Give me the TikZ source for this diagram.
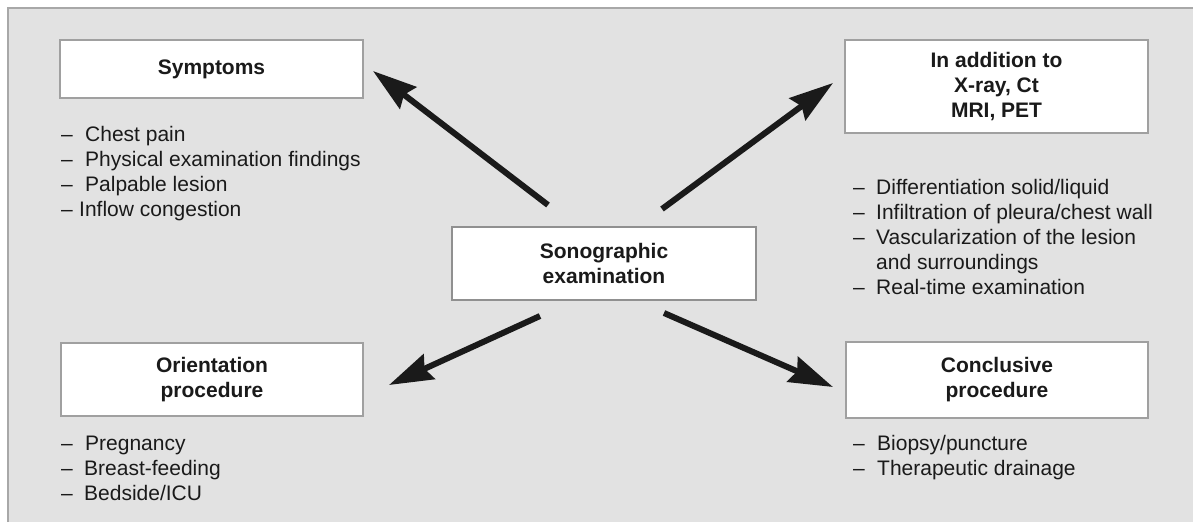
\documentclass[tikz,border=0pt]{standalone}
\usepackage{fontspec}
\setmainfont{Liberation Sans}
\usetikzlibrary{arrows.meta}
\definecolor{panel}{HTML}{E2E2E2}
\definecolor{frameline}{HTML}{A8A8A8}
\definecolor{boxline}{HTML}{A0A0A0}
\definecolor{ink}{HTML}{1A1A1A}
\newcommand\itm[2][24pt]{\makebox[#1][l]{–}#2}
\begin{document}
\begin{tikzpicture}[x=1pt,y=-1pt,
  box/.style={draw=boxline, line width=1.2pt, fill=white, minimum width=303pt,
    inner sep=0pt, align=center, text=ink,
    font=\bfseries\fontsize{21}{25}\selectfont},
  lst/.style={anchor=north west, inner sep=0pt, align=left, text=ink,
    font=\fontsize{21}{25}\selectfont},
  arr/.style={line width=6pt, draw=ink,
    -{Stealth[length=44pt,width=27pt,inset=5pt]}}]
\useasboundingbox (0,0) rectangle (1193,522);
% panel
\fill[panel] (7,7) rectangle (1193,522);
\draw[frameline, line width=2pt] (8,522) -- (8,8) -- (1193,8);
% boxes
\node[box, minimum height=58pt] (symp) at (211.5,69) {Symptoms};
\node[box, minimum height=93pt] (add) at (996.5,86.5) {In addition to\\X-ray, Ct\\MRI, PET};
\node[box, minimum width=304pt, minimum height=73pt, line width=2.5pt, draw=boxline!90!black] (sono) at (604,263.5) {Sonographic\\examination};
\node[box, minimum width=302pt, minimum height=73pt] (orient) at (212,379.5) {Orientation\\procedure};
\node[box, minimum width=302pt, minimum height=76pt] (concl) at (997,380) {Conclusive\\procedure};
% lists
\node[lst] (symplist) at (61,126) {\itm{Chest pain}\\\itm{Physical examination findings}\\\itm{Palpable lesion}\\\itm[18pt]{Inflow congestion}};
\node[lst] (addlist) at (853,179) {\itm[23pt]{Differentiation solid/liquid}\\\itm[23pt]{Infiltration of pleura/chest wall}\\\itm[23pt]{Vascularization of the lesion}\\\hspace*{23pt}and surroundings\\\itm[23pt]{Real-time examination}};
\node[lst] (orientlist) at (61,435.5) {\itm{Pregnancy}\\\itm[23pt]{Breast-feeding}\\\itm[23pt]{Bedside/ICU}};
\node[lst] (concllist) at (853,435.5) {\itm{Biopsy/puncture}\\\itm{Therapeutic drainage}};
% arrow ends
\coordinate (t1) at (548,205); \coordinate (h1) at (373,71);
\coordinate (t2) at (662,209); \coordinate (h2) at (833,83);
\coordinate (t3) at (540,316); \coordinate (h3) at (389,385);
\coordinate (t4) at (664,313); \coordinate (h4) at (833,387);
\draw[arr] (t1) -- (h1);
\draw[arr] (t2) -- (h2);
\draw[arr] (t3) -- (h3);
\draw[arr] (t4) -- (h4);
\end{tikzpicture}
\end{document}
